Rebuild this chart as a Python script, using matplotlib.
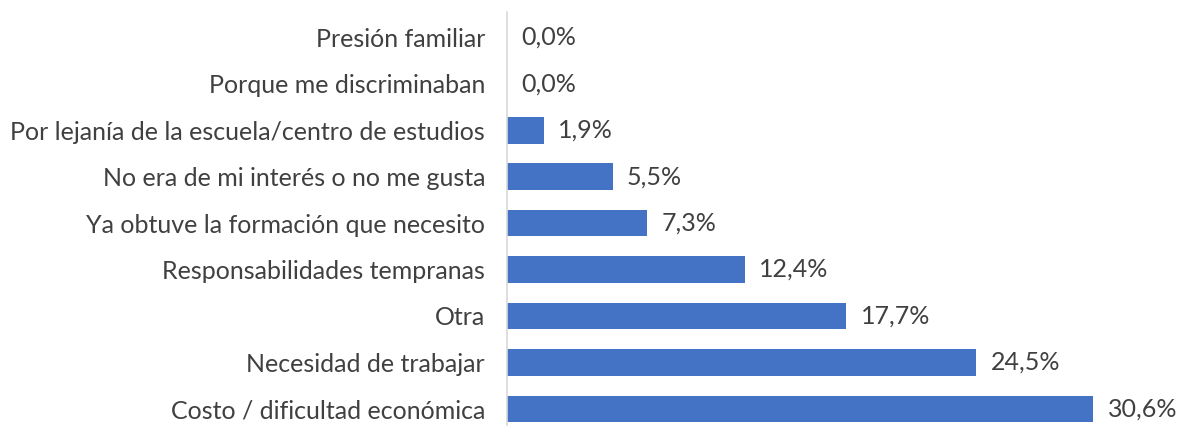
import matplotlib.pyplot as plt

categorias = ["Costo / dificultad económica", "Necesidad de trabajar", "Otra",
              "Responsabilidades tempranas", "Ya obtuve la formación que necesito",
              "No era de mi interés o no me gusta",
              "Por lejanía de la escuela/centro de estudios",
              "Porque me discriminaban", "Presión familiar"]
valores = [30.6, 24.5, 17.7, 12.4, 7.3, 5.5, 1.9, 0.0, 0.0]
etiquetas = ["30,6%", "24,5%", "17,7%", "12,4%", "7,3%", "5,5%", "1,9%", "0,0%", "0,0%"]

plt.rcParams['font.family'] = ['Lato', 'DejaVu Sans']
fig = plt.figure(figsize=(11.77, 4.26), dpi=100)
ax = fig.add_axes([0.431, 0.0, 0.5695, 0.972])

y = range(len(categorias))
ax.barh(y, valores, height=0.57, color="#4472C4")
for i, (v, t) in enumerate(zip(valores, etiquetas)):
    ax.text(v + 0.75, i, t, va="center", ha="left", fontsize=18, color="#404040")

ax.set_yticks(list(y))
ax.set_yticklabels(categorias, fontsize=18, color="#404040")
ax.tick_params(axis="y", length=0, pad=16)
ax.set_xticks([])
ax.set_xlim(0, 35)
ax.set_ylim(-0.37, 8.55)
for s in ["top", "right", "bottom"]:
    ax.spines[s].set_visible(False)
ax.spines["left"].set_color("#d9d9d9")
ax.spines["left"].set_linewidth(1.2)

fig.savefig("out.png", dpi=100)
